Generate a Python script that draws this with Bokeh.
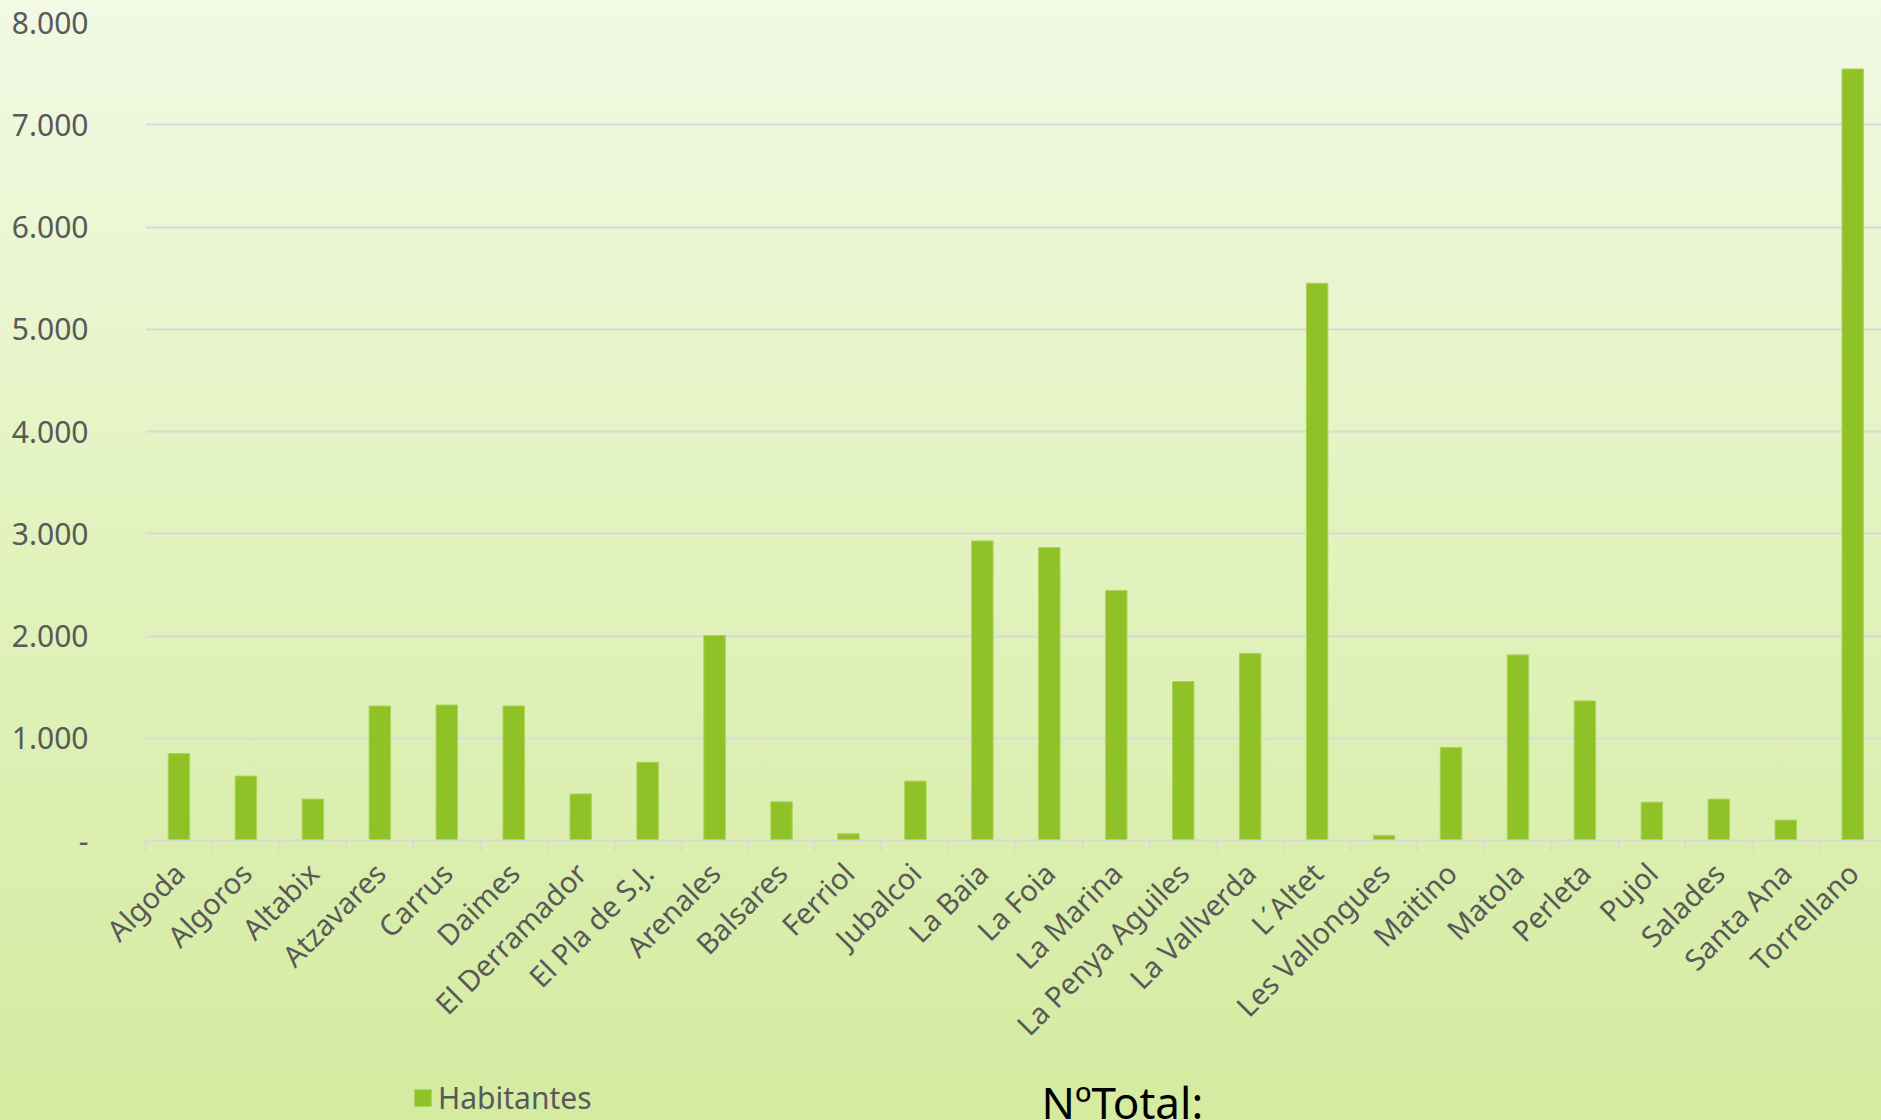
from bokeh.plotting import figure
from bokeh.layouts import column
from bokeh.models import (Range1d, FixedTicker, Legend, LegendItem, Label,
                          InlineStyleSheet, ColumnDataSource)
from bokeh.embed import file_html
from bokeh.resources import INLINE
import math

# ---- data ----
categories = ["Algoda", "Algoros", "Altabix", "Atzavares", "Carrus", "Daimes",
              "El Derramador", "El Pla de S.J.", "Arenales", "Balsares", "Ferriol",
              "Jubalcoi", "La Baia", "La Foia", "La Marina", "La Penya Aguiles",
              "La Vallverda", "L\u00b4Altet", "Les Vallongues", "Maitino", "Matola",
              "Perleta", "Pujol", "Salades", "Santa Ana", "Torrellano"]
habitantes = [850, 630, 405, 1315, 1325, 1315,
              455, 765, 2005, 378, 65,
              580, 2930, 2865, 2445, 1555,
              1830, 5450, 50, 910, 1815,
              1365, 375, 405, 200, 7545]
y_ticks = [0, 1000, 2000, 3000, 4000, 5000, 6000, 7000, 8000]
y_tick_labels = ["-", "1.000", "2.000", "3.000", "4.000", "5.000", "6.000", "7.000", "8.000"]
series_name = "Habitantes"
footer_text = "N\u00baTotal:"

FONT = "Noto Sans"
GREY = "#595959"
LINE = "#d9d9d9"
BAR = "#8fc226"
BAR_EDGE = "#a9d35a"

idx = list(range(len(categories)))
src = ColumnDataSource(dict(x=idx, top=habitantes, name=categories))

# ---- main chart ----
p = figure(width=1881, height=1075, output_backend="svg", toolbar_location=None,
           x_range=Range1d(-0.5, len(categories) - 0.57), y_range=Range1d(0, 8000),
           min_border_left=145, min_border_right=0, min_border_top=22, min_border_bottom=235)
p.border_fill_color = None
p.background_fill_color = None
p.outline_line_color = None

r = p.vbar(x="x", top="top", width=0.32, source=src,
           fill_color=BAR, line_color=BAR_EDGE, line_width=1)

xa = p.xaxis[0]
xa.ticker = FixedTicker(ticks=idx, minor_ticks=[i - 0.5 for i in range(len(categories) + 1)])
xa.major_label_overrides = {i: c for i, c in zip(idx, categories)}
xa.major_label_orientation = math.pi / 4
xa.major_tick_line_color = None
xa.major_tick_out = 0
xa.major_tick_in = 0
xa.minor_tick_line_color = LINE
xa.minor_tick_line_width = 2
xa.minor_tick_out = 11
xa.minor_tick_in = 0
xa.axis_line_color = LINE
xa.axis_line_width = 2
xa.major_label_text_font = FONT
xa.major_label_text_font_size = "29px"
xa.major_label_text_color = GREY
xa.major_label_standoff = 16

ya = p.yaxis[0]
ya.ticker = FixedTicker(ticks=y_ticks)
ya.major_label_overrides = {t: l for t, l in zip(y_ticks, y_tick_labels)}
ya.axis_line_color = None
ya.major_tick_line_color = None
ya.minor_tick_line_color = None
ya.major_tick_out = 0
ya.major_tick_in = 0
ya.major_label_standoff = 57
ya.major_label_text_font = FONT
ya.major_label_text_font_size = "30px"
ya.major_label_text_color = GREY

p.xgrid.grid_line_color = None
p.ygrid.grid_line_color = LINE
p.ygrid.grid_line_width = 2

# ---- footer strip: legend + "NºTotal:" (frame aligned with the main chart) ----
p2 = figure(width=1881, height=45, output_backend="svg", toolbar_location=None,
            x_range=Range1d(-0.5, len(categories) - 0.57), y_range=Range1d(0, 8000),
            min_border=0, x_axis_location=None, y_axis_location=None)
p2.border_fill_color = None
p2.background_fill_color = None
p2.outline_line_color = None
p2.grid.visible = False

# same series, hidden here: only feeds the legend swatch
r2 = p2.vbar(x="x", top="top", width=0.32, source=src,
             fill_color=BAR, line_color=BAR_EDGE, line_width=1, visible=False)

legend = Legend(items=[LegendItem(label=series_name, renderers=[r2])],
                location=(267, 2), orientation="horizontal",
                background_fill_alpha=0, border_line_color=None,
                padding=0, margin=0, spacing=0,
                glyph_width=21, glyph_height=21, label_standoff=5,
                label_text_font=FONT, label_text_font_size="30px",
                label_text_color=GREY,
                inactive_fill_alpha=0, inactive_fill_color=None)
p2.add_layout(legend)

lab = Label(x=896, y=19, x_units="screen", y_units="screen", text=footer_text,
            text_font=FONT, text_font_size="44px", text_color="#000000",
            text_baseline="alphabetic")
p2.add_layout(lab)

css = InlineStyleSheet(css=":host { background: linear-gradient(to bottom, #f2f9e4 0%, #e3f3c0 45%, #d4eba0 100%); }")
layout = column(p, p2, spacing=0, stylesheets=[css])

open("out.html", "w").write(file_html(layout, INLINE))
